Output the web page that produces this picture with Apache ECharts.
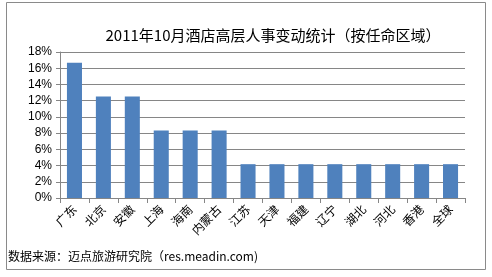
<!DOCTYPE html>
<html><head><meta charset="utf-8">
<script src="https://cdn.jsdelivr.net/npm/echarts@6/dist/echarts.min.js"></script>
<style>html,body{margin:0;padding:0;background:#fff}#c{width:492px;height:277px}</style>
</head><body><div id="c"></div>
<script>
const titleText = '2011年10月酒店高层人事变动统计（按任命区域）';
const sourceText = '数据来源：迈点旅游研究院（res.meadin.com)';
const categories = ['广东','北京','安徽','上海','海南','内蒙古','江苏','天津','福建','辽宁','湖北','河北','香港','全球'];
const shares = [16.67,12.5,12.5,8.33,8.33,8.33,4.17,4.17,4.17,4.17,4.17,4.17,4.17,4.17];
const yTicks = {min:0, max:18, interval:2};

const chart = echarts.init(document.getElementById('c'), null, {renderer:'canvas'});
const font = '"Liberation Sans", "Noto Sans CJK SC", sans-serif';
chart.setOption({
  animation:false,
  title:{text:titleText, top:23, left:268, textAlign:'center',
    textStyle:{fontSize:15, fontWeight:'normal', color:'#000', fontFamily:'"Noto Sans CJK SC", sans-serif'}},
  graphic:[
    {type:'rect', shape:{x:6.5,y:2.5,width:479,height:267}, style:{fill:'none', stroke:'#8a8a8a', lineWidth:1}, z:-1},
    {type:'text', left:8, top:250, style:{text:sourceText, fontSize:12, fill:'#000', fontFamily:'"Noto Sans CJK SC", sans-serif'}}
  ],
  grid:{left:60, right:27, top:52, bottom:79},
  xAxis:{type:'category', data:categories, boundaryGap:true,
    axisLine:{lineStyle:{color:'#868686'}},
    axisTick:{show:true, length:5, lineStyle:{color:'#868686'}},
    axisLabel:{rotate:45, fontSize:12, color:'#000', margin:9, fontFamily:'"Noto Sans CJK SC", sans-serif'}},
  yAxis:{type:'value', min:yTicks.min, max:yTicks.max, interval:yTicks.interval,
    axisLine:{show:true, lineStyle:{color:'#868686'}},
    axisTick:{show:true, length:4, lineStyle:{color:'#868686'}},
    splitLine:{lineStyle:{color:'#868686'}},
    axisLabel:{formatter:'{value}%', fontSize:12, color:'#000', margin:8, fontFamily:font}},
  series:[{type:'bar', data:shares, barWidth:'52%', itemStyle:{color:'#4F81BD'}}]
});
</script></body></html>
